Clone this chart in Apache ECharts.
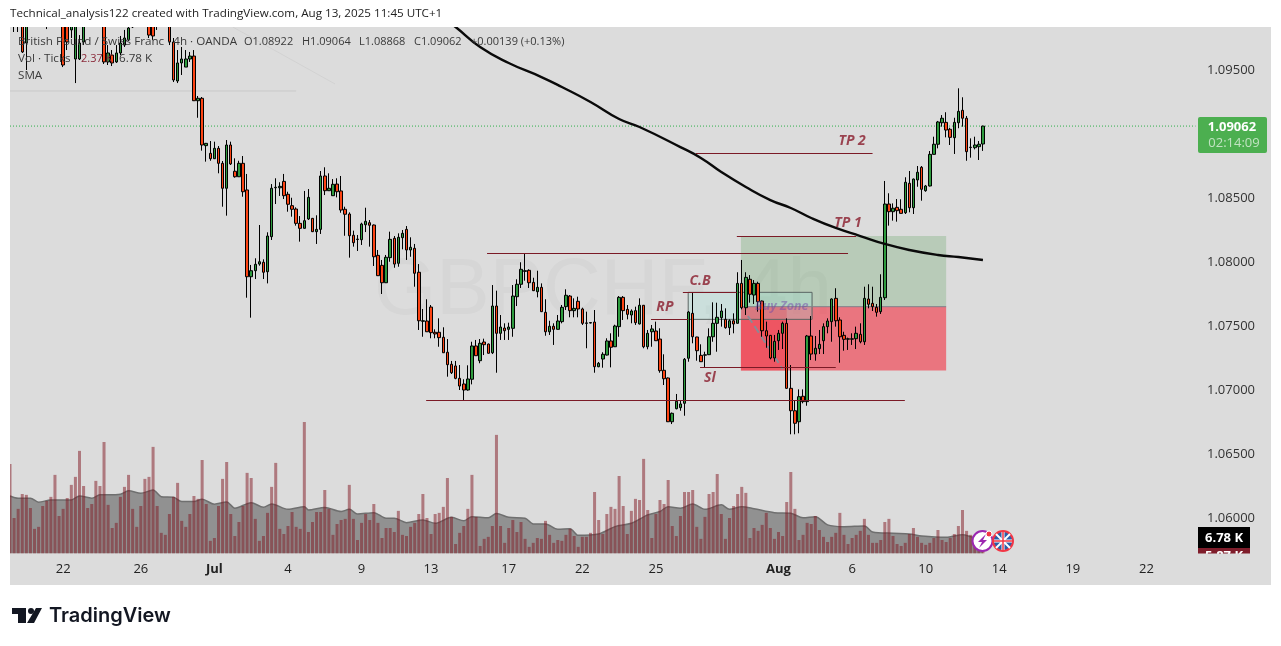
<!DOCTYPE html>
<html><head><meta charset="utf-8"><style>html,body{margin:0;padding:0;background:#fff}#c{width:1281px;height:646px}</style>
<script src="https://cdn.jsdelivr.net/npm/echarts@6/dist/echarts.min.js"></script></head><body><div id="c"></div><script>
// bar 0 is the partly visible bar at the left edge of the pane
const opens=[1.101,
1.09891,1.10008,1.09969,1.09711,1.10047,1.09953,1.10141,1.10063,1.10242,1.10109,
1.10164,1.1032,1.10242,1.10047,1.09813,1.09586,1.09586,1.09719,1.10047,1.09969,
1.10164,1.10109,1.10219,1.09563,1.09617,1.09563,1.09633,1.09695,1.09734,1.09836,
1.09984,1.10188,1.10164,1.10266,1.10086,1.09891,1.10125,1.10109,1.10242,1.09719,
1.09414,1.09555,1.09523,1.09586,1.09609,1.0926,1.09279,1.08909,1.08849,1.08807,
1.08888,1.08771,1.08576,1.08914,1.08709,1.08666,1.08771,1.08563,1.07885,1.07932,
1.07984,1.07998,1.07924,1.08198,1.0858,1.0858,1.0863,1.08529,1.0844,1.08414,
1.08302,1.08263,1.08336,1.08341,1.08237,1.08255,1.08672,1.08557,1.08518,1.08609,
1.08555,1.08412,1.08375,1.08209,1.08176,1.08174,1.08291,1.08307,1.08289,1.08052,
1.07974,1.07838,1.08034,1.08185,1.0799,1.0819,1.08255,1.08094,1.08107,1.0792,
1.07537,1.07539,1.07648,1.07451,1.07451,1.07412,1.07295,1.07201,1.07188,1.07091,
1.07047,1.07,1.07084,1.07344,1.07229,1.07375,1.07359,1.07291,1.07656,1.07443,
1.07484,1.07474,1.07482,1.07729,1.07826,1.07927,1.07935,1.07841,1.07768,1.07802,
1.07607,1.07455,1.07498,1.07474,1.07534,1.07651,1.07734,1.0762,1.07693,1.07633,
1.07521,1.07523,1.07531,1.07182,1.07242,1.07273,1.07383,1.07338,1.07495,1.07724,
1.0763,1.07586,1.0762,1.07516,1.07662,1.07338,1.07455,1.07461,1.07398,1.07154,
1.07094,1.06752,1.06854,1.06862,1.06896,1.07248,1.07599,1.07414,1.07271,1.07272,
1.07276,1.07416,1.07521,1.07565,1.07552,1.07487,1.07541,1.07521,1.07833,1.07643,
1.07865,1.07742,1.07833,1.07695,1.07463,1.07427,1.0725,1.07385,1.07443,1.07521,
1.07013,1.06838,1.06752,1.06951,1.06909,1.07422,1.07281,1.07323,1.07385,1.07495,
1.07534,1.07716,1.07547,1.07427,1.07397,1.07397,1.07401,1.07435,1.07377,1.07711,
1.07677,1.07646,1.07612,1.07721,1.08453,1.08393,1.08427,1.08412,1.08385,1.08615,
1.08424,1.08641,1.0874,1.08557,1.08594,1.08841,1.0892,1.09088,1.09091,1.09037,
1.08971,1.09088,1.09185,1.09123,1.08894,1.08893,1.08901,1.08922];
const closes=[1.1,
1.10203,1.09875,1.09641,1.0993,1.09891,1.10086,1.1,1.10203,1.10008,1.10281,
1.10359,1.10086,1.09539,1.09719,1.10008,1.09969,1.09711,1.10008,1.09891,1.10125,
1.10063,1.10242,1.09563,1.09633,1.09555,1.09633,1.09711,1.0975,1.09828,1.10008,
1.10164,1.10063,1.10281,1.09773,1.09766,1.10008,1.10008,1.10219,1.09719,1.09422,
1.09555,1.09586,1.09586,1.09609,1.0926,1.09279,1.08914,1.08927,1.08807,1.08888,
1.08771,1.08576,1.08914,1.08766,1.08666,1.08771,1.08549,1.07885,1.07932,1.07982,
1.08002,1.0792,1.08203,1.08576,1.08584,1.08591,1.08518,1.08451,1.08412,1.08302,
1.08263,1.08323,1.08505,1.08237,1.08255,1.08672,1.08557,1.08576,1.08607,1.08549,
1.08406,1.08373,1.08205,1.08151,1.08179,1.08297,1.08318,1.08287,1.08041,1.07893,
1.07838,1.08037,1.08177,1.07984,1.08193,1.08224,1.08094,1.08115,1.07912,1.07541,
1.07541,1.07455,1.07448,1.07438,1.07409,1.07291,1.07198,1.07135,1.07091,1.07031,
1.07,1.07086,1.07344,1.07268,1.07365,1.07354,1.07287,1.07656,1.07443,1.07492,
1.07463,1.07492,1.07734,1.07826,1.07943,1.07932,1.07838,1.07776,1.07802,1.07612,
1.07455,1.07498,1.07474,1.07539,1.07646,1.0774,1.0762,1.07638,1.07633,1.07521,
1.07524,1.07527,1.07182,1.07209,1.07279,1.07383,1.07334,1.075,1.07724,1.0762,
1.07591,1.07617,1.07526,1.07662,1.07338,1.07443,1.07477,1.07385,1.07151,1.07088,
1.06752,1.06818,1.06912,1.06891,1.0724,1.07609,1.07416,1.07307,1.07221,1.07275,
1.07416,1.07521,1.07568,1.07617,1.07487,1.07541,1.07516,1.07833,1.07643,1.0788,
1.07748,1.07833,1.0769,1.07463,1.07422,1.0725,1.0738,1.07443,1.07521,1.07013,
1.06838,1.0674,1.06948,1.06909,1.07422,1.07281,1.07326,1.07357,1.07495,1.07539,
1.07711,1.07541,1.07416,1.07396,1.074,1.074,1.07443,1.07377,1.07716,1.0767,
1.07651,1.07607,1.07724,1.08453,1.08393,1.0842,1.08401,1.0838,1.08623,1.08424,
1.08648,1.08701,1.08568,1.08594,1.08841,1.0892,1.09094,1.09123,1.09031,1.08974,
1.09091,1.09177,1.09123,1.08862,1.08897,1.08914,1.0892,1.09062];
const lows=[1.0995,
1.09797,1.09797,1.09633,1.095,1.09844,1.09875,1.09938,1.09984,1.0982,1.10031,
1.10094,1.09969,1.09523,1.09656,1.0975,1.09398,1.09578,1.09695,1.09852,1.09922,
1.09953,1.10063,1.09547,1.09539,1.09531,1.09555,1.09617,1.0968,1.09727,1.09828,
1.0993,1.09969,1.10086,1.0975,1.09734,1.09813,1.09953,1.10047,1.09695,1.09406,
1.09398,1.09461,1.09523,1.09563,1.09258,1.09127,1.0887,1.08784,1.08791,1.08805,
1.08693,1.08432,1.08362,1.08758,1.08659,1.08664,1.0851,1.07721,1.07565,1.07867,
1.07971,1.07867,1.07833,1.08172,1.08453,1.08516,1.08492,1.08393,1.08354,1.08284,
1.08159,1.08261,1.08328,1.08234,1.08141,1.08219,1.08523,1.08555,1.08516,1.08505,
1.08385,1.08205,1.08034,1.0812,1.08086,1.08133,1.08234,1.0812,1.07969,1.07891,
1.0775,1.07836,1.08002,1.07955,1.07963,1.08099,1.08016,1.08041,1.07807,1.07469,
1.07416,1.07453,1.07404,1.07404,1.07338,1.07289,1.07104,1.07125,1.07084,1.07,
1.06922,1.06995,1.07044,1.07268,1.07209,1.07273,1.07285,1.07281,1.07135,1.07391,
1.07391,1.07391,1.07416,1.07656,1.07797,1.07854,1.07797,1.07773,1.07724,1.07609,
1.07424,1.0743,1.07352,1.07473,1.07521,1.07625,1.07568,1.07568,1.07568,1.07508,
1.07326,1.0752,1.07135,1.07178,1.07174,1.0727,1.07177,1.07336,1.07416,1.07547,
1.07552,1.07521,1.07508,1.07512,1.07326,1.07318,1.07338,1.07383,1.07135,1.07039,
1.0675,1.06734,1.06849,1.06838,1.06799,1.07221,1.07365,1.07229,1.07219,1.07177,
1.07273,1.07377,1.07299,1.07495,1.07479,1.0743,1.07443,1.0752,1.0763,1.07586,
1.07682,1.07672,1.07612,1.07416,1.0733,1.0724,1.07221,1.07313,1.0732,1.0701,
1.06654,1.06654,1.06662,1.06896,1.06877,1.07234,1.07229,1.07281,1.07281,1.07443,
1.07377,1.07495,1.07213,1.07307,1.07313,1.07352,1.0732,1.07365,1.07352,1.07638,
1.07617,1.07573,1.07594,1.07703,1.08284,1.08323,1.08315,1.08379,1.08375,1.08388,
1.08375,1.08588,1.08479,1.08549,1.0859,1.0884,1.08888,1.09057,1.08974,1.08914,
1.08844,1.09045,1.09057,1.08791,1.08815,1.0888,1.08797,1.08868];
const highs=[1.1015,
1.10281,1.10094,1.10047,1.10008,1.10109,1.10156,1.10203,1.10266,1.10281,1.10344,
1.10422,1.10406,1.10281,1.10125,1.10086,1.10047,1.09773,1.10086,1.10125,1.10188,
1.10219,1.10281,1.10281,1.09695,1.09656,1.09695,1.09766,1.09813,1.0993,1.10086,
1.10219,1.1025,1.10359,1.1032,1.10141,1.1007,1.10203,1.10281,1.10297,1.0975,
1.09656,1.0968,1.09656,1.09641,1.09656,1.09297,1.09289,1.0893,1.08945,1.0894,
1.08906,1.08789,1.08953,1.0894,1.0881,1.08791,1.08828,1.08688,1.07977,1.08029,
1.08289,1.08021,1.08232,1.08609,1.08654,1.08623,1.08688,1.08549,1.08502,1.08427,
1.08359,1.08555,1.0857,1.08344,1.08365,1.08711,1.0874,1.08693,1.08648,1.08654,
1.08672,1.08432,1.08388,1.08245,1.08211,1.08307,1.08424,1.08328,1.08293,1.08094,
1.08016,1.08055,1.08237,1.08203,1.08224,1.0825,1.08281,1.08193,1.08141,1.07984,
1.07633,1.07709,1.07664,1.07474,1.0756,1.0749,1.07398,1.07227,1.07227,1.07195,
1.07084,1.07193,1.07377,1.07391,1.07398,1.07401,1.07363,1.0782,1.07776,1.07586,
1.07521,1.07526,1.0782,1.07865,1.07998,1.08068,1.07943,1.07877,1.07932,1.07833,
1.07709,1.07541,1.07521,1.07586,1.07664,1.07787,1.07742,1.07716,1.07729,1.07643,
1.07612,1.07531,1.07625,1.07219,1.07295,1.07404,1.07443,1.0751,1.07734,1.07734,
1.07664,1.0763,1.07651,1.07716,1.07664,1.07469,1.07508,1.07534,1.07482,1.07279,
1.07098,1.06824,1.06969,1.06916,1.0725,1.07617,1.07763,1.07416,1.07357,1.07299,
1.07482,1.07685,1.07682,1.07672,1.07638,1.07552,1.07599,1.0792,1.08016,1.0792,
1.07898,1.07859,1.07846,1.07699,1.07534,1.0743,1.0743,1.07469,1.07534,1.0756,
1.07195,1.06916,1.07005,1.07005,1.0743,1.07578,1.07422,1.07469,1.07521,1.0756,
1.07716,1.07795,1.07568,1.07455,1.07409,1.07443,1.07495,1.07521,1.07807,1.07826,
1.07807,1.07672,1.07904,1.08633,1.08537,1.08458,1.08492,1.0849,1.08662,1.08711,
1.08652,1.0875,1.0875,1.08602,1.08867,1.08979,1.09102,1.09148,1.0917,1.09049,
1.09127,1.09357,1.09287,1.09141,1.08966,1.08979,1.08945,1.09064];
// tick volume, thousands
const volumes=[40.2,
15.9,20,26.7,26.3,20.4,11,11.9,21.3,23.6,25.4,35.3,16.8,20,24.9,30.8,34.4,46.1,30.3,20.4,22.2,
32.6,30.3,50.1,21.8,11.4,13.7,25.4,29.9,35.3,20,11.9,21.3,33.5,34.4,47.9,21.3,9.2,8.3,17.7,25.4,
31.7,14.6,11.9,17.7,25.8,24.5,42,22.2,5.6,6.9,21.3,33.5,41.1,17.7,7.8,14.1,21.3,36.2,33.9,15.5,
5.6,7.8,18.2,29.9,40.7,11,8.7,12.3,18.6,11.9,11,59.1,9.6,14.1,18.6,18.6,28.5,20,8.3,13.2,
15,15.5,30.8,15.5,6,13.7,17.7,15,22.2,13.7,6.9,11.4,11.4,9.6,19.1,8.3,7.8,11.9,13.7,17.7,
26.7,15.9,8.7,17.7,18.2,20.9,33.9,16.4,4.2,9.2,12.3,20,35.3,16.4,3.3,6.5,7.4,12.3,53.3,12.3,
4.7,11.4,15,9.6,14.1,6.5,2.9,4.7,6.9,6.5,14.6,8.3,4.7,6,5.6,8.3,11,7.8,2.9,7.4,
7.4,9.2,27.6,15,8.7,17.7,20.9,20,34.8,21.3,8.7,19.1,24.5,24,42.5,19.5,6.9,17.7,24,22.2,
33,12.3,7.8,16.8,27.6,27.6,28.5,11.9,6.5,16.4,26.7,27.6,35.7,17.7,6.5,15.9,21.3,26.7,29.9,27.2,
6.9,11.4,10.1,12.8,18.2,11.4,6.5,9.6,7.8,23.1,36.6,20,6,8.3,13.7,13.2,16.8,10.5,7.4,5.1,
7.4,9.2,18.2,8.3,4.2,6.9,8.3,10.1,15.5,8.3,4.7,4.7,6,14.1,15.5,7.8,4.2,3.3,4.7,8.7,
11.4,7.4,4.7,3.8,4.7,6.9,10.5,6,5.1,6.9,8.7,12.3,19.5,10.1,8.3,6,5.3,6.78];
const volSmaBars=[0,2,5,7,10,12,15,17,20,22,24,27,29,32,35,37,40,42,45,47,50,53,55,59,62,64,68,72,73,77,81,83,85,89,92,94,97,101,104,108,111,113,117,119,122,126,128,131,134,137,139,144,148,152,156,159,161,164,167,170,174,176,179,182,187,191,194,197,200,204,209,211,216,220,223,229,233,235,238];
const volSmaValues=[25.8,24.8,24.8,23,24,24,24,25.8,24.8,26.3,26.3,26.6,28.1,27,28.5,25.5,25.2,23.3,23.3,24.3,22.1,23.1,20.3,22.8,20.7,22.2,19.8,21,19.5,20.6,18.8,19.8,17.7,18.3,15.8,15.8,13.8,15,13.5,16.2,14.6,16.5,16,17.9,16.2,15.8,13.2,13.2,10.8,11.1,8.1,8.7,12,13.5,17.3,18.8,21,20.3,22.2,19.8,21.8,19.8,21,20.1,18.3,18,16,16.5,12.8,12,12.3,9.6,9,8.7,7.8,7.2,8.3,7.5,5.87];
const smaBars=[105,109,115,122,130,135,142,149,154,164,169,174,180,186,191,196,202,208,214,220,227,232,238];
const smaValues=[1.0993,1.09836,1.0968,1.09555,1.09445,1.09367,1.0925,1.09117,1.09055,1.08898,1.08813,1.08703,1.08586,1.08484,1.08422,1.08344,1.08266,1.08203,1.08141,1.08094,1.08055,1.08039,1.08016];
const priceTickMin=1.055, priceTickStep=0.005, priceTop=1.09836;
const timeLabelBars=[13,32,50,68,86,103,122,140,158,188,206,224,242,260,278];
const timeLabels=['22','26','Jul','4','9','13','17','22','25','Aug','6','10','14','19','22'];
const timeLabelsBold=['Jul','Aug'];
const barSlots=291;
const lastPrice=1.09062;
// analyst drawings, in bar numbers and prices
const levelStarts=[167.8,177.8,116.7,164.6,156.8,168.8,101.8];
const levelEnds=[211,207,205,177.8,165.9,202,218.9];
const levelPrices=[1.08849,1.08203,1.08068,1.07763,1.07552,1.07177,1.0692];
const noteTexts=['TP 2','TP 1','C.B','RP','Sl'];
const noteBars=[206,205,168.8,160.2,171.2];
const notePrices=[1.08945,1.08305,1.07852,1.07648,1.07094];
const zoneBars=[[178.8,229],[178.8,229],[178.8,190],[165.9,196.2]];
const zonePrices=[[1.08203,1.07651],[1.07651,1.07152],[1.07651,1.07152],[1.07763,1.07552]];
const zoneFills=['rgba(56,142,60,0.225)','rgba(242,54,69,0.62)','rgba(242,54,69,0.5)','rgba(150,230,220,0.25)'];
const zoneStrokes=[null,null,null,'#5a6563'];

const cats=Array.from({length:barSlots},(_,i)=>{
  const k=timeLabelBars.indexOf(i); if(k<0) return '';
  const t=timeLabels[k];
  return timeLabelsBold.includes(t)?{value:t,textStyle:{fontWeight:'bold'}}:t;
});
const candleData=opens.map((o,i)=>[o,closes[i],lows[i],highs[i]]);
const FONT='"Open Sans","Noto Sans",sans-serif';
const DARKRED='#7b1a26';
const seg=(xs,ys,lineStyle,z)=>({type:'line',xAxisIndex:2,yAxisIndex:0,data:xs.map((x,i)=>[x,ys[i]]),showSymbol:false,silent:true,z:z,lineStyle:lineStyle,animation:false});

const txt=(text,x,y,font,fill,align,z)=>({type:'text',z:z||100,silent:true,style:{text,x,y,font,fill,align:align||'left',verticalAlign:'middle'}});
const rect=(x,y,w,h,fill,z,r)=>({type:'rect',z:z,silent:true,shape:{x,y,width:w,height:h,r:r||0},style:{fill}});
const HEAD='11.65px '+FONT, NUM='11px '+FONT, INK='#3a3a3a';

const graphicEls=[
 rect(10,27,1261,558,'#dcdcdc',0),
 txt('GBPCHF, 4h',603,292,'80px "Liberation Sans",sans-serif','#d6d6d6','center',1),
 // candles above the pane are masked by the page margin
 rect(0,0,1281,27,'#ffffff',90),
 rect(0,27,10,559,'#ffffff',90),
 txt('Technical_analysis122 created with TradingView.com, Aug 13, 2025 11:45 UTC+1',10,14,HEAD,'#222'),
 txt('British Pound / Swiss Franc · 4h · OANDA',18,42,HEAD,INK),
 txt('O1.08922',244,42,NUM,INK),
 txt('H1.09064',302,42,NUM,INK),
 txt('L1.08868',359,42,NUM,INK),
 txt('C1.09062',414,42,NUM,INK),
 txt('+0.00139 (+0.13%)',471,42,NUM,INK),
 txt('Vol · Ticks',18,59,HEAD,INK),
 txt('2.37 K',81,59,NUM,'#8b2a3a'),
 txt('6.78 K',119,59,HEAD,INK),
 txt('SMA',18,76,HEAD,INK),
 // price badges
 rect(1198,117,69,36,'#4caf50',50,2),
 txt('1.09062',1232,127,'bold 13px '+FONT,'#ffffff','center'),
 txt('02:14:09',1234,143,'13px '+FONT,'rgba(255,255,255,0.65)','center'),
 rect(1198,548,52,12,'#7f1d2b',50),
 txt('5.87 K',1224,556,'bold 13px '+FONT,'#ffffff','center',51),
 rect(1198,553.5,52,14,'#dcdcdc',52),
 rect(1198,527,52,21,'#000000',53),
 txt('6.78 K',1224,538,'bold 13px '+FONT,'#ffffff','center',54),
 // event icons
 {type:'circle',z:60,silent:true,shape:{cx:982.5,cy:541,r:10},style:{fill:'#ffffff',stroke:'#9c27b0',lineWidth:2}},
 {type:'polygon',z:61,silent:true,shape:{points:[[986,534],[978,542],[982,542],[979,548],[987,540],[983,540]]},style:{fill:'#9c27b0'}},
 {type:'circle',z:62,silent:true,shape:{cx:989,cy:534,r:3},style:{fill:'#f23645',stroke:'#ffffff',lineWidth:1}},
 {type:'circle',z:63,silent:true,shape:{cx:1003,cy:541,r:10},style:{fill:'#2a5ea8',stroke:'#f23645',lineWidth:2}},
 {type:'line',z:64,silent:true,shape:{x1:996,y1:534,x2:1010,y2:548},style:{stroke:'#fff',lineWidth:2}},
 {type:'line',z:64,silent:true,shape:{x1:1010,y1:534,x2:996,y2:548},style:{stroke:'#fff',lineWidth:2}},
 {type:'line',z:65,silent:true,shape:{x1:1003,y1:532,x2:1003,y2:550},style:{stroke:'#fff',lineWidth:3}},
 {type:'line',z:65,silent:true,shape:{x1:994,y1:541,x2:1012,y2:541},style:{stroke:'#fff',lineWidth:3}},
 {type:'line',z:66,silent:true,shape:{x1:1003,y1:532,x2:1003,y2:550},style:{stroke:'#f23645',lineWidth:1.5}},
 {type:'line',z:66,silent:true,shape:{x1:994,y1:541,x2:1012,y2:541},style:{stroke:'#f23645',lineWidth:1.5}},
 // TradingView logo
 {type:'polygon',z:70,silent:true,shape:{points:[[12,608],[26,608],[26,623],[18,623],[18,614],[12,614]]},style:{fill:'#131722'}},
 {type:'circle',z:70,silent:true,shape:{cx:31,cy:611,r:3},style:{fill:'#131722'}},
 {type:'polygon',z:70,silent:true,shape:{points:[[36,608],[42,608],[34,623],[27,623]]},style:{fill:'#131722'}},
 txt('TradingView',49,616,'600 20px Inter,sans-serif','#131722')
];

const chart=echarts.init(document.getElementById('c'),null,{renderer:'canvas'});
chart.setOption({
 animation:false,
 backgroundColor:'#ffffff',
 grid:[{left:10,top:27,width:1185.5,height:555},{left:10,top:422,width:1185.5,height:131.3}],
 xAxis:[
  {type:'category',gridIndex:0,data:cats,boundaryGap:false,show:false},
  {type:'category',gridIndex:1,data:cats,boundaryGap:false,axisLine:{show:false},axisTick:{show:false},splitLine:{show:false},
   axisLabel:{interval:0,margin:9,fontSize:13,color:'#222',fontFamily:FONT,hideOverlap:false}},
  {type:'value',gridIndex:0,min:0,max:barSlots-1,show:false}
 ],
 yAxis:[
  {type:'value',gridIndex:0,position:'right',min:priceTickMin,max:priceTop,interval:priceTickStep,splitLine:{show:false},axisLine:{show:false},axisTick:{show:false},
   axisLabel:{margin:11.5,fontSize:13,color:'#333',fontFamily:FONT,showMinLabel:false,showMaxLabel:false,formatter:v=>v.toFixed(5)}},
  {type:'value',gridIndex:1,min:0,max:59.1,show:false}
 ],
 series:[
  {type:'custom',xAxisIndex:2,yAxisIndex:0,z:1,silent:true,clip:true,
   data:zoneBars.map((b,i)=>[b[0],b[1],zonePrices[i][0],zonePrices[i][1],i]),
   encode:{x:[0,1],y:[2,3]},
   renderItem:(p,api)=>{const a=api.coord([api.value(0),api.value(2)]),b=api.coord([api.value(1),api.value(3)]),i=api.value(4);
    return {type:'rect',shape:{x:a[0],y:a[1],width:b[0]-a[0],height:b[1]-a[1]},style:{fill:zoneFills[i],stroke:zoneStrokes[i]||'none',lineWidth:1}};}},
  seg([178.8,229],[1.07651,1.07651],{color:'#808089',width:1},1.5),
  seg([0,70],[1.09336,1.09336],{color:'#c9c9c9',width:1},1.5),
  seg([54.5,79.5],[1.09836,1.09391],{color:'#d2d2d2',width:1},1.5),
  seg([180.5,189],[1.07578,1.07164],{color:'#8a8a96',width:2,type:'dashed'},1.5),
  seg([0,barSlots-1],[lastPrice,lastPrice],{color:'#2fae4a',width:1,type:[1,2]},1.6),
  {type:'candlestick',xAxisIndex:0,yAxisIndex:0,z:2,data:candleData,barWidth:3,silent:true,clip:true,
   itemStyle:{color:'#2e9b3e',color0:'#fc4414',borderColor:'#000000',borderColor0:'#000000',borderWidth:1}},
  {type:'custom',xAxisIndex:2,yAxisIndex:0,z:3,silent:true,clip:true,
   data:levelStarts.map((s,i)=>[s,levelEnds[i],levelPrices[i]]),encode:{x:[0,1],y:2},
   renderItem:(p,api)=>{const a=api.coord([api.value(0),api.value(2)]),b=api.coord([api.value(1),api.value(2)]);
    return {type:'line',shape:{x1:a[0],y1:Math.round(a[1])+0.5,x2:b[0],y2:Math.round(b[1])+0.5},style:{stroke:DARKRED,lineWidth:1}};}},
  {type:'line',xAxisIndex:0,yAxisIndex:0,z:4,data:smaBars.map((b,i)=>[b,smaValues[i]]),smooth:0.5,showSymbol:false,silent:true,lineStyle:{color:'#0a0a0a',width:2.4}},
  {type:'scatter',xAxisIndex:2,yAxisIndex:0,z:5,silent:true,symbolSize:1,itemStyle:{color:'transparent'},
   data:noteBars.map((b,i)=>({value:[b,notePrices[i]],name:noteTexts[i]})),
   label:{show:true,position:'inside',formatter:'{b}',color:'#8a1c2c',fontFamily:FONT,fontSize:14,fontStyle:'italic',fontWeight:'bold'}},
  {type:'scatter',xAxisIndex:2,yAxisIndex:0,z:5,silent:true,symbolSize:1,itemStyle:{color:'transparent'},
   data:[{value:[188.8,1.07656],name:'Buy Zone'}],
   label:{show:true,position:'inside',formatter:'{b}',color:'rgba(110,70,170,0.6)',fontFamily:FONT,fontSize:12.5,fontStyle:'italic',fontWeight:'bold'}},
  {type:'line',xAxisIndex:1,yAxisIndex:1,z:2,data:volSmaBars.map((b,i)=>[b,volSmaValues[i]]),smooth:0.3,showSymbol:false,silent:true,
   lineStyle:{color:'#6f6f6f',width:1.5},areaStyle:{color:'#919191',opacity:1}},
  {type:'bar',xAxisIndex:1,yAxisIndex:1,z:3,data:volumes,barWidth:3,silent:true,itemStyle:{color:'rgba(128,22,32,0.5)'}}
 ],
 graphic:{elements:graphicEls}
});
</script></body></html>
